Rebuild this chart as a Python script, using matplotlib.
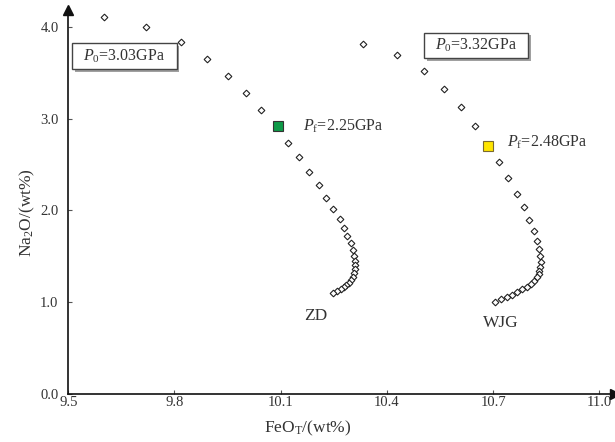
import matplotlib
matplotlib.use("Agg")
import matplotlib.pyplot as plt
import matplotlib.patheffects as pe
from matplotlib.patches import Rectangle

# ZD melting path (FeO_T, Na2O)
zd_feo = [9.602, 9.719, 9.818, 9.893, 9.952, 10.002, 10.045, 10.121, 10.151, 10.180,
          10.207, 10.229, 10.248, 10.266, 10.278, 10.288, 10.299, 10.303, 10.308, 10.311,
          10.311, 10.309, 10.306, 10.303, 10.299, 10.292, 10.285, 10.278, 10.269, 10.260,
          10.249]
zd_na2o = [4.109, 3.993, 3.834, 3.649, 3.460, 3.275, 3.094, 2.738, 2.579, 2.419,
           2.274, 2.141, 2.020, 1.911, 1.806, 1.723, 1.643, 1.570, 1.505, 1.450,
           1.404, 1.360, 1.317, 1.280, 1.244, 1.214, 1.186, 1.164, 1.143, 1.121,
           1.099]

# WJG melting path
wjg_feo = [10.331, 10.427, 10.505, 10.562, 10.609, 10.648, 10.715, 10.741, 10.766, 10.786,
           10.801, 10.816, 10.823, 10.828, 10.832, 10.834, 10.832, 10.830, 10.828, 10.823,
           10.816, 10.806, 10.795, 10.782, 10.768, 10.753, 10.738, 10.722, 10.706]
wjg_na2o = [3.808, 3.695, 3.518, 3.322, 3.123, 2.920, 2.528, 2.354, 2.183, 2.033,
            1.897, 1.782, 1.670, 1.576, 1.502, 1.440, 1.382, 1.345, 1.309, 1.273,
            1.236, 1.203, 1.171, 1.143, 1.113, 1.084, 1.059, 1.034, 1.008]

# final pressure points
zd_pf = (10.092, 2.920)
wjg_pf = (10.684, 2.707)

xticks = [9.5, 9.8, 10.1, 10.4, 10.7, 11.0]
yticks = [0.0, 1.0, 2.0, 3.0, 4.0]

plt.rcParams["font.family"] = ["Liberation Serif", "DejaVu Serif"]
plt.rcParams["mathtext.fontset"] = "custom"
plt.rcParams["mathtext.rm"] = "Liberation Serif"
plt.rcParams["mathtext.it"] = "Liberation Serif:italic"

txt = "#333333"

fig = plt.figure(figsize=(6.15, 4.42), dpi=100)
ax = fig.add_axes([0.111, 0.108, 0.889, 0.869])

ax.plot(zd_feo, zd_na2o, "D", ms=3.4, mfc="white", mec="#222222", mew=0.8, ls="none")
ax.plot(wjg_feo, wjg_na2o, "D", ms=3.4, mfc="white", mec="#222222", mew=0.8, ls="none")
ax.plot(*zd_pf, "s", ms=7, mfc="#0e9a48", mec="#333333", mew=0.8)
ax.plot(*wjg_pf, "s", ms=7, mfc="#ffe500", mec="#7a6a30", mew=0.8)

ax.set_xlim(9.5, 11.044)
ax.set_ylim(0, 4.18)
ax.set_xticks(xticks)
ax.set_yticks(yticks)
ax.set_xticklabels([f"{v:.1f}" for v in xticks])
ax.set_yticklabels([f"{v:.1f}" for v in yticks])
ax.tick_params(direction="in", length=3, width=0.8, color="#555555",
               labelsize=10.5, labelcolor=txt)
ax.tick_params(axis="x", pad=1)
ax.tick_params(axis="y", pad=7)

for s in ("top", "right"):
    ax.spines[s].set_visible(False)
for s in ("left", "bottom"):
    ax.spines[s].set_linewidth(1.2)
    ax.spines[s].set_color("#111111")

# axis arrows
ax.plot(1, 0, ">", color="#111111", ms=7, transform=ax.transAxes, clip_on=False)
ax.plot(0, 1, "^", color="#111111", ms=7, transform=ax.transAxes, clip_on=False)

ax.set_xlabel("FeO$_{\\mathrm{T}}$/(wt%)", fontsize=12.5, color=txt, va="center")
ax.xaxis.set_label_coords(0.437, -0.088)
ax.set_ylabel("Na$_{\\mathrm{2}}$O/(wt%)", fontsize=12.5, color=txt, va="center")
ax.yaxis.set_label_coords(-0.074, 0.472)

# boxed starting pressures
for (x0, y0, x1, y1), label in [((9.511, 3.540, 9.806, 3.819), "$P_{\\mathrm{0}}$=3.03GPa"),
                                ((10.506, 3.656, 10.798, 3.935), "$P_{\\mathrm{0}}$=3.32GPa")]:
    r = Rectangle((x0, y0), x1 - x0, y1 - y0, fc="white", ec="#444444", lw=1.0, zorder=3)
    r.set_path_effects([pe.SimplePatchShadow(offset=(2, -2), shadow_rgbFace="#888888", alpha=0.8),
                        pe.Normal()])
    ax.add_patch(r)
    ax.text((x0 + x1) / 2, (y0 + y1) / 2, label, ha="center", va="center",
            fontsize=11.5, color=txt, zorder=4)

ax.text(10.164, 2.919, "$P_{\\mathrm{f}}$=2.25GPa", ha="left", va="center", fontsize=11.5, color=txt)
ax.text(10.740, 2.738, "$P_{\\mathrm{f}}$=2.48GPa", ha="left", va="center", fontsize=11.5, color=txt)
ax.text(10.200, 0.852, "ZD", ha="center", va="center", fontsize=12.5, color=txt)
ax.text(10.722, 0.779, "WJG", ha="center", va="center", fontsize=12.5, color=txt)

fig.savefig("out.png", dpi=100)
